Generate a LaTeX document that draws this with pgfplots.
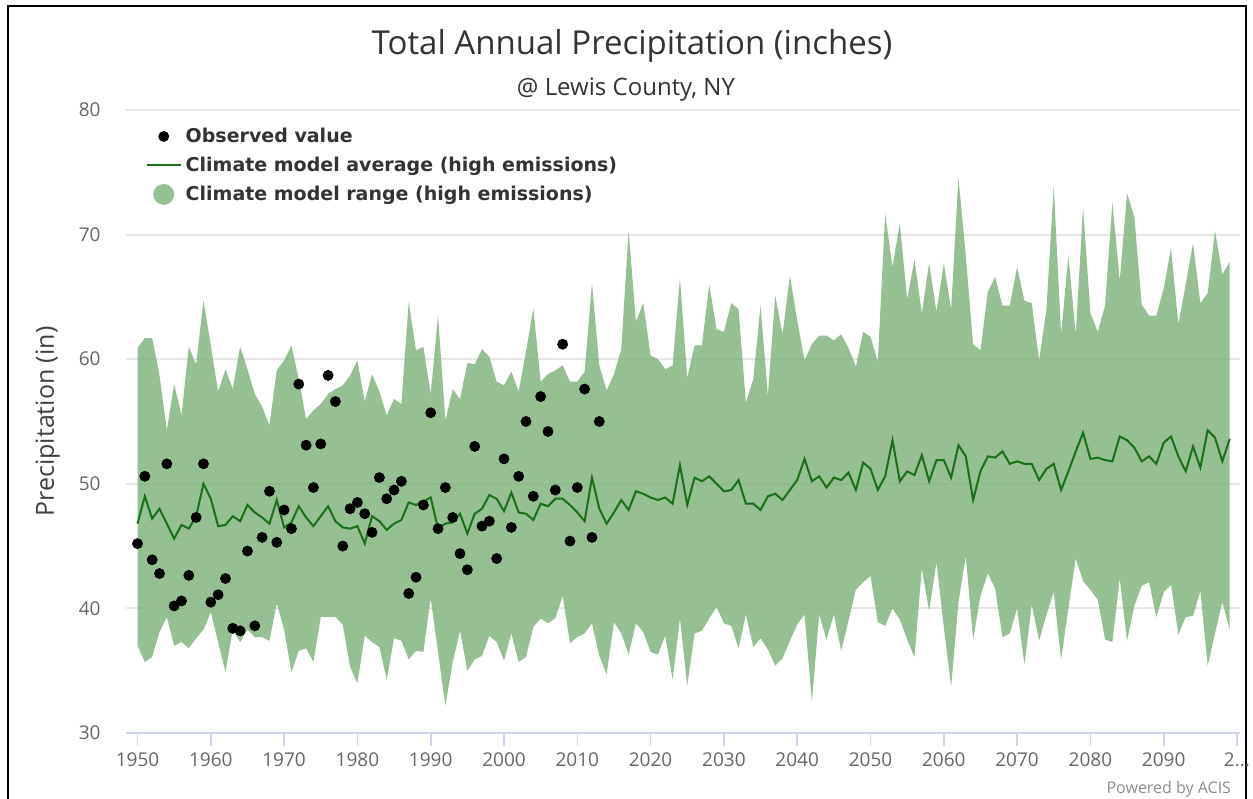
\documentclass[border=0pt]{standalone}
\usepackage{fontspec}
\setmainfont{Open Sans}
\newfontfamily\legfont{DejaVu Sans}
\usepackage{pgfplots}
\pgfplotsset{compat=1.18}
\usepackage{pgfplotstable}
\definecolor{gridc}{RGB}{230,230,230}
\definecolor{axisc}{RGB}{204,214,235}
\definecolor{tickc}{RGB}{102,102,102}
\definecolor{titlec}{RGB}{51,51,51}
\definecolor{avgc}{RGB}{25,112,25}
\definecolor{rangec}{RGB}{124,175,121}
\definecolor{legrange}{RGB}{150,191,148}

% model average
\pgfplotstableread{
year avg
1950 46.8
1951 49.0
1952 47.2
1953 48.0
1954 46.8
1955 45.6
1956 46.7
1957 46.4
1958 47.4
1959 50.0
1960 48.8
1961 46.6
1962 46.7
1963 47.4
1964 47.0
1965 48.3
1966 47.7
1967 47.3
1968 46.8
1969 48.7
1970 46.5
1971 46.9
1972 48.2
1973 47.3
1974 46.6
1975 47.4
1976 48.2
1977 47.0
1978 46.5
1979 46.4
1980 46.6
1981 45.2
1982 47.4
1983 47.0
1984 46.3
1985 46.8
1986 47.1
1987 48.5
1988 48.3
1989 48.6
1990 48.9
1991 46.4
1992 46.8
1993 46.9
1994 47.6
1995 46.0
1996 47.6
1997 48.0
1998 49.1
1999 48.8
2000 47.8
2001 49.3
2002 47.7
2003 47.6
2004 47.1
2005 48.4
2006 48.2
2007 48.8
2008 48.8
2009 48.3
2010 47.7
2011 47.0
2012 50.5
2013 48.0
2014 46.8
2015 47.7
2016 48.7
2017 47.9
2018 49.4
2019 49.2
2020 48.9
2021 48.7
2022 48.9
2023 48.4
2024 51.5
2025 48.3
2026 50.5
2027 50.2
2028 50.6
2029 50.0
2030 49.4
2031 49.5
2032 50.3
2033 48.4
2034 48.4
2035 47.9
2036 49.0
2037 49.2
2038 48.7
2039 49.5
2040 50.3
2041 52.0
2042 50.2
2043 50.6
2044 49.7
2045 50.5
2046 50.3
2047 50.9
2048 49.5
2049 51.7
2050 51.2
2051 49.5
2052 50.6
2053 53.5
2054 50.2
2055 51.0
2056 50.7
2057 52.3
2058 50.2
2059 51.9
2060 51.9
2061 50.5
2062 53.1
2063 52.2
2064 48.7
2065 51.0
2066 52.2
2067 52.1
2068 52.6
2069 51.6
2070 51.8
2071 51.6
2072 51.6
2073 50.3
2074 51.2
2075 51.6
2076 49.5
2077 51.0
2078 52.6
2079 54.1
2080 52.0
2081 52.1
2082 51.9
2083 51.8
2084 53.8
2085 53.5
2086 52.9
2087 51.8
2088 52.2
2089 51.6
2090 53.3
2091 53.8
2092 52.2
2093 51.0
2094 53.0
2095 51.3
2096 54.3
2097 53.7
2098 51.8
2099 53.6
}\avgtab

% model range: upper bound 1950->2099, then lower bound 2099->1950
\pgfplotstableread{
year val
1950 60.9
1951 61.7
1952 61.7
1953 58.7
1954 54.3
1955 58.0
1956 55.5
1957 61.0
1958 59.6
1959 64.7
1960 61.1
1961 57.4
1962 59.2
1963 57.6
1964 61.0
1965 59.2
1966 57.2
1967 56.2
1968 54.7
1969 59.1
1970 59.9
1971 61.1
1972 58.4
1973 55.2
1974 55.9
1975 56.4
1976 57.2
1977 57.6
1978 57.9
1979 58.7
1980 59.9
1981 56.6
1982 58.8
1983 57.4
1984 55.5
1985 56.8
1986 56.4
1987 64.6
1988 60.7
1989 61.0
1990 57.2
1991 63.5
1992 55.1
1993 57.6
1994 56.8
1995 59.7
1996 59.6
1997 60.8
1998 60.2
1999 58.2
2000 57.9
2001 59.0
2002 57.4
2003 60.6
2004 64.1
2005 58.2
2006 58.8
2007 59.1
2008 59.5
2009 58.2
2010 58.2
2011 59.0
2012 66.1
2013 59.5
2014 57.5
2015 58.8
2016 60.8
2017 70.3
2018 63.0
2019 64.5
2020 60.3
2021 60.0
2022 59.2
2023 59.5
2024 66.5
2025 58.5
2026 61.1
2027 61.1
2028 66.0
2029 62.4
2030 62.2
2031 64.5
2032 64.0
2033 56.5
2034 58.4
2035 64.3
2036 57.1
2037 65.1
2038 62.0
2039 66.7
2040 63.1
2041 59.9
2042 61.2
2043 61.9
2044 61.9
2045 61.5
2046 62.0
2047 60.9
2048 59.4
2049 62.2
2050 61.8
2051 59.8
2052 71.7
2053 67.4
2054 70.9
2055 64.8
2056 68.0
2057 63.7
2058 67.7
2059 63.8
2060 67.7
2061 64.0
2062 74.6
2063 68.3
2064 61.2
2065 60.7
2066 65.4
2067 66.6
2068 64.3
2069 64.3
2070 67.4
2071 64.7
2072 64.5
2073 59.9
2074 64.0
2075 73.9
2076 62.0
2077 68.3
2078 62.0
2079 72.2
2080 63.7
2081 62.2
2082 64.3
2083 72.6
2084 66.3
2085 73.3
2086 71.4
2087 64.4
2088 63.5
2089 63.5
2090 65.7
2091 68.9
2092 62.8
2093 66.0
2094 69.3
2095 64.5
2096 65.3
2097 70.3
2098 66.8
2099 67.8
2099 38.3
2098 40.5
2097 38.0
2096 35.4
2095 41.4
2094 39.4
2093 39.3
2092 37.9
2091 41.9
2090 41.3
2089 39.3
2088 42.1
2087 41.8
2086 40.2
2085 37.4
2084 42.4
2083 37.3
2082 37.5
2081 40.7
2080 41.5
2079 42.2
2078 44.0
2077 40.0
2076 35.9
2075 41.3
2074 39.5
2073 37.4
2072 40.3
2071 35.5
2070 40.0
2069 38.0
2068 37.7
2067 41.6
2066 42.8
2065 41.0
2064 37.5
2063 44.2
2062 40.5
2061 33.7
2060 38.5
2059 43.7
2058 39.8
2057 43.2
2056 36.1
2055 37.5
2054 39.1
2053 40.0
2052 38.6
2051 38.9
2050 42.6
2049 42.1
2048 41.5
2047 39.0
2046 36.6
2045 39.5
2044 37.5
2043 39.5
2042 32.5
2041 39.5
2040 38.7
2039 37.4
2038 36.0
2037 35.4
2036 36.7
2035 37.6
2034 36.9
2033 39.5
2032 36.8
2031 38.6
2030 38.8
2029 40.1
2028 39.2
2027 38.2
2026 38.0
2025 33.8
2024 39.2
2023 34.3
2022 37.8
2021 36.3
2020 36.5
2019 38.1
2018 38.8
2017 36.3
2016 38.0
2015 38.9
2014 34.7
2013 36.2
2012 38.8
2011 38.0
2010 37.7
2009 37.2
2008 41.0
2007 39.2
2006 38.8
2005 39.2
2004 38.5
2003 36.1
2002 35.7
2001 38.0
2000 35.8
1999 37.3
1998 37.8
1997 36.2
1996 35.9
1995 35.0
1994 38.2
1993 35.7
1992 32.2
1991 36.5
1990 40.8
1989 36.5
1988 36.6
1987 35.9
1986 37.4
1985 37.6
1984 34.3
1983 36.9
1982 37.3
1981 37.8
1980 34.0
1979 35.3
1978 38.7
1977 39.3
1976 39.3
1975 39.3
1974 35.7
1973 36.8
1972 36.6
1971 34.9
1970 38.3
1969 40.4
1968 37.4
1967 37.7
1966 37.7
1965 38.3
1964 37.3
1963 38.3
1962 34.9
1961 37.3
1960 39.7
1959 38.3
1958 37.6
1957 36.8
1956 37.3
1955 37.0
1954 39.3
1953 38.1
1952 36.1
1951 35.7
1950 37.0
}\bandtab

\pgfplotstableread{
year obs
1950 45.2
1951 50.6
1952 43.9
1953 42.8
1954 51.6
1955 40.2
1956 40.6
1957 42.65
1958 47.3
1959 51.6
1960 40.5
1961 41.1
1962 42.4
1963 38.4
1964 38.2
1965 44.6
1966 38.6
1967 45.7
1968 49.4
1969 45.3
1970 47.9
1971 46.4
1972 58.0
1973 53.1
1974 49.7
1975 53.2
1976 58.7
1977 56.6
1978 45.0
1979 48.0
1980 48.5
1981 47.6
1982 46.1
1983 50.5
1984 48.8
1985 49.5
1986 50.2
1987 41.2
1988 42.5
1989 48.3
1990 55.7
1991 46.4
1992 49.7
1993 47.3
1994 44.4
1995 43.1
1996 53.0
1997 46.6
1998 47.0
1999 44.0
2000 52.0
2001 46.5
2002 50.6
2003 55.0
2004 49.0
2005 57.0
2006 54.2
2007 49.5
2008 61.2
2009 45.4
2010 49.7
2011 57.6
2012 45.7
2013 55.0
}\obs

\begin{document}
\begin{tikzpicture}
\path[use as bounding box] (0,0) rectangle (626.5bp,399.5bp);
\draw[line width=1.3bp, black] (4bp,0) -- (4bp,396.5bp) -- (623bp,396.5bp) -- (623bp,0);
\node[anchor=base, text=titlec, font=\fontsize{16.5bp}{19bp}\selectfont] at (316bp,372bp) {Total Annual Precipitation (inches)};
\node[anchor=base, text=titlec, font=\fontsize{12bp}{14bp}\selectfont] at (313bp,351.5bp) {@ Lewis County, NY};
\node[anchor=base east, text=black!45, font=\fontsize{8bp}{10bp}\selectfont] at (619bp,3bp) {Powered by ACIS};
\begin{axis}[
  at={(63bp,33bp)}, anchor=south west,
  width=557bp, height=311.5bp, scale only axis,
  xmin=1948.43, xmax=2100.41, ymin=30, ymax=80,
  axis x line*=bottom, axis y line*=left,
  x axis line style={-, color=axisc, line width=1bp},
  y axis line style={draw=none},
  xtick={1950,1960,1970,1980,1990,2000,2010,2020,2030,2040,2050,2060,2070,2080,2090,2100},
  xticklabels={1950,1960,1970,1980,1990,2000,2010,2020,2030,2040,2050,2060,2070,2080,2090,{2{.}{.}{.}}},
  ytick={30,40,50,60,70,80},
  tick align=outside,
  major tick length=6.5bp,
  xtick style={color=axisc, line width=0.8bp},
  ytick style={draw=none},
  ymajorgrids, grid style={color=gridc, line width=1bp},
  /pgf/number format/assume math mode=true,
  tick label style={text=tickc, font=\fontsize{9.5bp}{11bp}\selectfont},
  xticklabel style={inner sep=0pt, anchor=north, yshift=-3bp},
  yticklabel style={inner sep=0pt, anchor=east, xshift=-6bp},
  ylabel={Precipitation (in)},
  ylabel shift=6bp,
  ylabel style={text=black!75, font=\fontsize{12.5bp}{14bp}\selectfont},
  legend cell align=left,
  legend style={at={(0.012,0.985)}, anchor=north west, draw=none, fill=none,
    font=\legfont\bfseries\fontsize{9.5bp}{11bp}\selectfont, text=titlec,
    row sep=1.8bp},
]
\addlegendimage{only marks, mark=*, mark size=2.5bp, black}
\addlegendentry{Observed value}
\addlegendimage{avgc, line width=1bp}
\addlegendentry{Climate model average (high emissions)}
\addlegendimage{only marks, mark=*, mark size=5bp, legrange, draw=legrange}
\addlegendentry{Climate model range (high emissions)}

\addplot[fill=rangec, fill opacity=0.8, draw=none, forget plot] table[x=year, y=val] {\bandtab} -- cycle;
\addplot[avgc, line width=1bp, forget plot] table[x=year, y=avg] {\avgtab};
\addplot[only marks, mark=*, mark size=2.5bp, black, forget plot] table[x=year, y=obs] {\obs};
\end{axis}
\end{tikzpicture}
\end{document}
